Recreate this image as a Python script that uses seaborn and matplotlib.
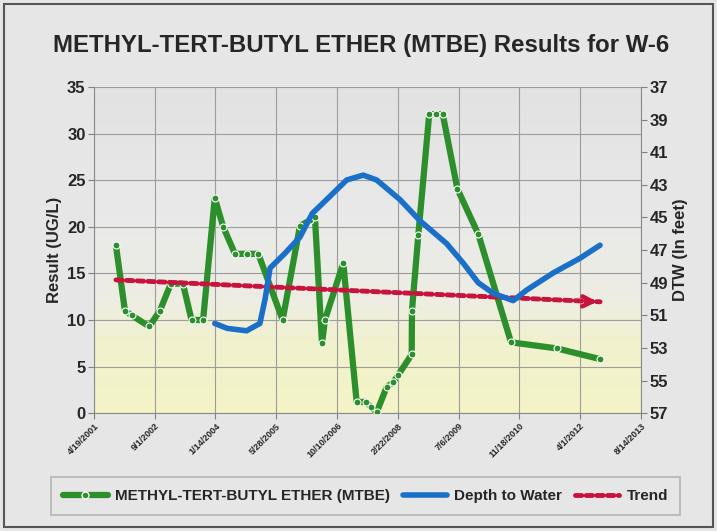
import matplotlib
matplotlib.use('Agg')
import matplotlib.pyplot as plt
from matplotlib.colors import LinearSegmentedColormap
from matplotlib.lines import Line2D
from matplotlib.patches import Rectangle
import seaborn as sns
import pandas as pd
import numpy as np

sns.set_style('whitegrid')
plt.rcParams['font.family'] = ['Liberation Sans', 'DejaVu Sans']
plt.rcParams['font.weight'] = 'bold'

# MTBE results (UG/L)
mtbe_dates = ['2001-10-17', '2001-12-30', '2002-02-23', '2002-07-18', '2002-10-14',
              '2003-01-12', '2003-04-21', '2003-07-01', '2003-10-04', '2004-01-08',
              '2004-03-17', '2004-06-22', '2004-09-26', '2004-12-31', '2005-07-19',
              '2005-12-09', '2006-03-01', '2006-04-11', '2006-06-08', '2006-07-02',
              '2006-11-30', '2007-03-20', '2007-06-05', '2007-07-13', '2007-09-01',
              '2007-11-22', '2008-01-15', '2008-02-25', '2008-06-15', '2008-06-17',
              '2008-08-08', '2008-11-06', '2008-12-31', '2009-02-25', '2009-06-25',
              '2009-12-15', '2010-09-10', '2011-09-20', '2012-09-11']
mtbe_values = [18.0, 11.0, 10.5, 9.3, 11.0,
               13.9, 13.9, 10.0, 10.0, 23.1,
               20.0, 17.1, 17.1, 17.1, 10.0,
               20.1, 20.7, 21.0, 7.5, 10.0,
               16.1, 1.2, 1.2, 0.7, 0.1,
               2.8, 3.3, 4.1, 6.3, 11.0,
               19.1, 32.1, 32.1, 32.1, 24.1,
               19.2, 7.6, 6.95, 5.8]

# depth to water (feet)
dtw_dates = ['2004-01-08', '2004-04-19', '2004-09-26', '2005-01-13', '2005-02-25',
             '2005-04-07', '2005-08-07', '2005-12-09', '2006-03-20', '2006-07-16',
             '2006-12-28', '2007-05-13', '2007-09-01', '2008-03-10', '2008-08-22',
             '2009-03-29', '2009-08-13', '2009-12-14', '2010-04-17', '2010-09-28',
             '2011-01-17', '2011-08-23', '2012-03-30', '2012-09-11']
dtw_values = [51.5, 51.8, 51.95, 51.5, 50.0,
              48.1, 47.2, 46.2, 44.75, 43.9,
              42.7, 42.4, 42.7, 43.9, 45.2,
              46.6, 47.8, 49.0, 49.65, 50.1,
              49.45, 48.4, 47.5, 46.7]

# trend line (UG/L)
trend_dates = ['2001-10-17', '2012-09-11']
trend_values = [14.3, 11.95]

tick_labels = ['4/19/2001', '9/1/2002', '1/14/2004', '5/28/2005', '10/10/2006',
               '2/22/2008', '7/6/2009', '11/18/2010', '4/1/2012', '8/14/2013']

green = '#2C8F2C'
blue = '#1A6FC9'
red = '#C8143C'
grid_c = '#9C9C9C'
bg = '#E6E6E6'

df_mtbe = pd.DataFrame({'date': pd.to_datetime(mtbe_dates), 'value': mtbe_values})
df_dtw = pd.DataFrame({'date': pd.to_datetime(dtw_dates), 'value': dtw_values})
df_trend = pd.DataFrame({'date': pd.to_datetime(trend_dates), 'value': trend_values})
ticks = pd.to_datetime(tick_labels, format='%m/%d/%Y')

fig = plt.figure(figsize=(7.17, 5.31), dpi=100, facecolor=bg)
ax = fig.add_axes([0.131, 0.222, 0.763, 0.614])

# plot area background (grey fading to pale yellow at the bottom)
cmap = LinearSegmentedColormap.from_list(
    'bgfade', [(0, '#F4F4C6'), (0.22, '#F1F1CF'), (0.35, '#EDEDE4'),
               (0.6, '#E9E9E9'), (1, '#E2E2E2')])
grad = np.linspace(0, 1, 256).reshape(-1, 1)
ax.imshow(grad, extent=[0, 1, 0, 1], transform=ax.transAxes, cmap=cmap,
          aspect='auto', origin='lower', zorder=0)

sns.lineplot(data=df_mtbe, x='date', y='value', ax=ax, color=green, lw=4.5,
             marker='o', markersize=5, markeredgecolor='white',
             markeredgewidth=0.8, markerfacecolor=green, legend=False, zorder=3)
sns.lineplot(data=df_trend, x='date', y='value', ax=ax, color=red, lw=3.5,
             linestyle=(0, (1.3, 0.9)), legend=False, zorder=4,
             dash_capstyle='round')
ax.annotate('', xy=(df_trend['date'].iloc[-1], df_trend['value'].iloc[-1]),
            xytext=(-12, 0.3), textcoords='offset points',
            arrowprops=dict(arrowstyle='->', color=red, lw=3.2,
                            mutation_scale=18), zorder=5)

ax.set_xlim(ticks[0], ticks[-1])
ax.set_ylim(0, 35)
ax.set_xticks(ticks)
ax.set_xticklabels(tick_labels, rotation=45, ha='right', rotation_mode='anchor',
                   fontsize=6.5, fontweight='bold')
ax.set_yticks(np.arange(0, 36, 5))
ax.tick_params(axis='y', labelsize=12, length=4, color='#808080', left=True,
               pad=2)
ax.tick_params(axis='x', length=4, color='#808080', bottom=True, pad=2)
ax.grid(True, color=grid_c, lw=0.8)
ax.set_xlabel('')
ax.set_ylabel('Result (UG/L)', fontsize=12, fontweight='bold', labelpad=4)
for s in ['left', 'bottom']:
    ax.spines[s].set_color('#8A8A8A')
ax.spines['top'].set_visible(False)
ax.spines['right'].set_visible(False)

ax2 = ax.twinx()
sns.lineplot(data=df_dtw, x='date', y='value', ax=ax2, color=blue, lw=4,
             legend=False, zorder=3)
ax2.lines[-1].set_solid_joinstyle('round')
ax2.set_ylim(57, 37)
ax2.set_yticks(np.arange(37, 58, 2))
ax2.tick_params(axis='y', labelsize=12, length=4, color='#808080', right=True,
                pad=2)
ax2.grid(False)
ax2.set_ylabel('DTW (In feet)', fontsize=12, fontweight='bold', labelpad=4)
for s in ['left', 'top', 'bottom']:
    ax2.spines[s].set_visible(False)
ax2.spines['right'].set_color('#8A8A8A')
ax2.set_xlim(ticks[0], ticks[-1])

fig.text(0.503, 0.915, 'METHYL-TERT-BUTYL ETHER (MTBE) Results for W-6',
         ha='center', va='center', fontsize=17.3, fontweight='bold')

handles = [
    Line2D([0, 0.5, 1], [0, 0, 0], color=green, lw=4.5, marker='o', markersize=5,
           markeredgecolor='white', markevery=[1]),
    Line2D([], [], color=blue, lw=4),
    Line2D([], [], color=red, lw=3.5, linestyle=(0, (1.3, 0.9)),
           dash_capstyle='round'),
]
leg = fig.legend(handles, ['METHYL-TERT-BUTYL ETHER (MTBE)', 'Depth to Water', 'Trend'],
                 loc='center', bbox_to_anchor=(0.51, 1 - 496 / 531), ncol=3,
                 frameon=True, fancybox=False, edgecolor='#A8A8A8',
                 facecolor=bg, handlelength=2.9,
                 handletextpad=0.5, columnspacing=0.8, borderpad=0.8,
                 prop={'weight': 'bold', 'size': 11})
leg.get_frame().set_linewidth(1.2)

# scanned frame around the chart
fig.patches.append(Rectangle((0.005, 0.008), 0.99, 0.985, transform=fig.transFigure,
                             fill=False, edgecolor='#555555', lw=1.5))

fig.savefig('out.png', dpi=100, facecolor=bg)
